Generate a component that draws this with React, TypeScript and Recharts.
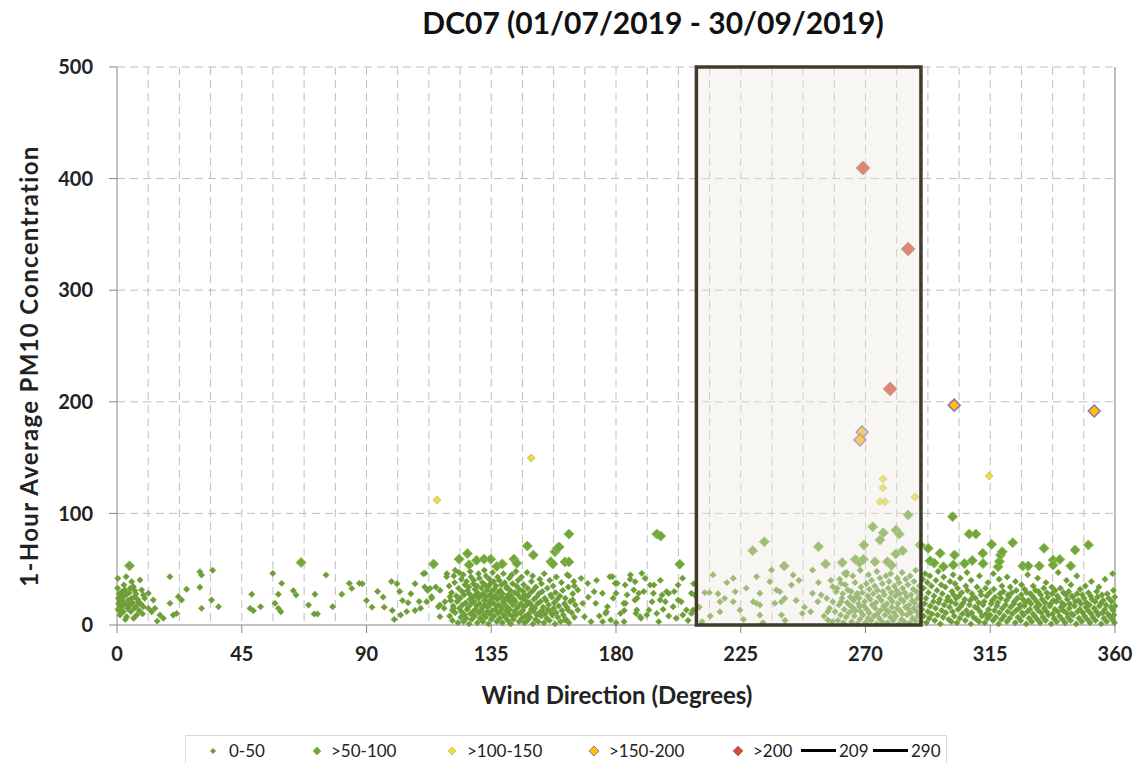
import { FC } from "react"
import { CartesianGrid, Label, ReferenceArea, ReferenceLine, Scatter, ScatterChart, XAxis, YAxis } from "recharts"

type Pair = [number, number]

// wind direction (deg), PM10 (ug/m3), grouped by band
const over200: Pair[] = [[269.1, 409.5], [285.4, 336.9], [278.9, 211.5]]

const from150to200: Pair[] = [[268.8, 173], [268, 165.8], [302, 197], [352.5, 191.8]]

const from100to150: Pair[] = [
  [115.4, 112], [149.4, 149.6], [276.3, 130.8], [276.3, 122.8],
  [275.2, 110.5], [277, 110.5], [287.9, 114.7], [314.6, 133.5],
]

const from50to100: Pair[] = [
  [4.5, 53], [66.4, 56], [114.2, 54.6], [123.4, 59], [126.4, 64], [127, 54], [129.7, 58],
  [132.4, 59], [134.8, 59], [137, 52.5], [139, 54.7], [143.2, 59], [144.2, 55.3], [148, 70.8],
  [150.2, 62.7], [156.5, 56.7], [157.2, 54.7], [158, 65.7], [158.8, 68.7], [159.5, 70],
  [161.6, 56.5], [163, 56.5], [163, 81.5], [194.7, 81.5], [196.1, 79.7], [203, 54.5],
  [229.3, 66.6], [233.5, 74.6], [240.7, 52.9], [253, 70.2], [255.6, 54.7], [261.6, 55.9],
  [266.3, 58.8], [267.8, 55.9], [269.2, 58.8], [269.4, 71.7], [272.6, 88], [273.4, 56.7],
  [275.2, 76.2], [276.4, 82.7], [277.9, 56.7], [279.4, 53.5], [280.9, 63.6], [281, 85.1],
  [282.2, 81.5], [283.4, 66.6], [285.4, 98.6], [289.7, 71.7],
  [292.6, 68.7], [293.3, 57.5], [294.8, 55.5], [296.9, 64.2], [298.1, 52.2], [301.4, 97],
  [301.7, 53.8], [302.1, 62.7], [305.7, 55], [307.4, 81.5], [308.5, 57.8], [309.8, 81.5],
  [312.3, 64.2], [312.4, 55], [315.5, 72.3], [317.8, 52.2], [318.3, 56.9], [318.7, 62.7],
  [319.3, 65.7], [323.1, 73.7], [326.7, 52.9], [328.7, 52.9], [332.7, 52.9], [334.4, 68.7],
  [337.7, 58.2], [337.7, 53.8], [340.1, 58.8], [344, 52.9], [345.6, 67.2], [350.4, 71.7],
]

const lowNorth: Pair[] = [
  [0.3, 41.8], [3.3, 43.3], [8.3, 40.3], [5.3, 38.8], [2.5, 35.8], [5.9, 34.3], [8.9, 31.4],
  [2.9, 31.4], [0.5, 23.9], [1.1, 20.9], [1.7, 16.4], [2.3, 11.9], [4.1, 22.4], [4.7, 17.9],
  [6.5, 25.4], [7.7, 20.9], [9.5, 26.9], [7.1, 8.9], [3.5, 7.5], [1.1, 8.9], [9.5, 16.4],
  [0.8, 28], [1.5, 25], [2, 22], [2.8, 19], [3.2, 27], [3.8, 15], [4.4, 29], [5, 12], [5.6, 20],
  [6.2, 15], [6.8, 28], [7.4, 23], [8, 13], [8.6, 19], [9.2, 10], [10, 24], [0.4, 14], [1.9, 30],
  [3, 5], [4.8, 33], [6, 6], [7, 17], [2.6, 26], [5.3, 24], [3.9, 18], [0.6, 19], [0.2, 33],
  [1.3, 12], [6.4, 31], [11.3, 28.4], [13.1, 22.4], [11.3, 14.9], [13.7, 14.9], [12.5, 11.9],
  [15.5, 8.9], [16.7, 6], [14.5, 3.5], [20.3, 8.9], [21.5, 10.4], [19.1, 19.4], [22.1, 25.4],
  [23.3, 22.4], [25.1, 32], [19.1, 43.3], [29.9, 47.8], [30.5, 44.8], [29.9, 33.8], [34.5, 49],
  [34.1, 22.4], [30.5, 14.9], [36.6, 16.4], [48.6, 27.5], [48, 14.9], [49.2, 12.8], [51.8, 16.4],
  [56.2, 46.3], [59.4, 37.3], [58.2, 27.5], [57, 19.4], [58.2, 14.9], [59.1, 11.9], [63.6, 30.8],
  [64.6, 26.9], [69.1, 17.9], [71.4, 27.5], [71.1, 9.9], [72.3, 9.9], [75.4, 44.8], [77.8, 16.4],
  [81.1, 27.5], [83.8, 37.3], [84.7, 32.8], [87.4, 37.3],
]

const lowEast: Pair[] = [
  [88.5, 37], [90, 22], [92, 16], [96, 25], [96.4, 16], [99, 39], [99.3, 13], [101, 37], [102, 30],
  [102.3, 9], [103, 22], [104.5, 12], [106, 28], [107.5, 37], [107.5, 13], [109, 21], [109.5, 15],
  [110.5, 46], [111, 34], [112, 31], [113.5, 24], [115, 34], [116.5, 31], [116.5, 18], [118, 15],
  [119, 46], [121, 13], [122, 49], [111.1, 46.3], [112.9, 32.8], [113.5, 25.4], [111.7, 20.9],
  [115.9, 16.4], [118.3, 20.9], [120.1, 25.4], [118.9, 43.3], [121.3, 14.9], [116.5, 7.5],
  [105, 20], [100, 5], [94, 30],
]

const lowSouthEast: Pair[] = [
  [120, 8], [120.4, 22], [119.8, 35], [121, 4], [121.3, 17], [120.7, 29], [121.5, 44],
  [122, 11], [122.4, 26], [121.8, 38], [123, 2], [123.5, 15], [122.7, 21], [123.2, 33], [123.4, 47],
  [124, 7], [124.3, 12], [123.8, 24], [124.5, 30], [124.2, 41],
  [125, 3], [125.4, 9], [124.7, 18], [125.2, 27], [125.5, 36], [124.9, 45],
  [126, 6], [126.3, 14], [125.8, 20], [126.4, 31], [126.1, 39],
  [127, 1], [127.5, 10], [126.7, 16], [127.3, 23], [127.1, 28], [126.9, 34], [127.4, 48],
  [128, 5], [128.4, 12], [127.8, 19], [128.2, 25], [128.5, 37], [127.7, 43],
  [129, 8], [129.3, 14], [128.8, 21], [129.4, 27], [129.1, 32], [128.7, 40],
  [130, 2], [130.5, 11], [129.7, 17], [130.3, 24], [130.1, 29], [129.9, 35], [130.4, 46],
  [131, 6], [131.4, 13], [130.8, 19], [131.2, 26], [131.5, 33], [130.7, 42],
  [132, 3], [132.3, 9], [131.7, 15], [132.4, 22], [132.1, 28], [131.8, 38], [132.5, 49],
  [133, 7], [133.5, 12], [132.8, 18], [133.2, 25], [133.4, 31], [132.7, 36], [133.1, 44],
  [134, 1], [134.4, 10], [133.7, 16], [134.2, 21], [134.5, 27], [133.9, 34], [134.3, 41],
  [135, 5], [135.3, 13], [134.8, 19], [135.4, 24], [135.1, 30], [134.7, 37], [135.5, 47],
  [136, 8], [136.5, 14], [135.7, 20], [136.3, 26], [136.1, 32], [135.9, 39],
  [137, 3], [137.4, 11], [136.8, 17], [137.2, 23], [137.5, 29], [136.7, 35], [137.3, 43],
  [138, 6], [138.3, 12], [137.7, 18], [138.4, 25], [138.2, 31], [137.9, 40],
  [139, 2], [139.5, 9], [138.8, 15], [139.3, 21], [139.1, 28], [138.7, 36], [139.4, 46],
  [140, 7], [140.4, 13], [139.7, 19], [140.2, 24], [140.5, 33], [139.9, 38],
  [141, 4], [141.3, 10], [140.8, 16], [141.4, 22], [141.1, 27], [140.7, 34], [141.5, 42],
  [142, 1], [142.5, 8], [141.7, 14], [142.3, 20], [142.1, 26], [141.9, 31], [142.4, 45],
  [143, 5], [143.4, 12], [142.8, 18], [143.2, 23], [143.5, 29], [142.7, 37],
  [144, 9], [144.3, 15], [143.7, 21], [144.4, 28], [144.1, 35], [143.9, 48],
  [145, 3], [145.5, 11], [144.8, 17], [145.3, 25], [145.1, 32], [144.7, 40],
  [146, 6], [146.4, 13], [145.7, 19], [146.2, 24], [146.5, 30], [145.9, 43],
  [147, 2], [147.3, 8], [146.8, 16], [147.4, 22], [147.1, 27], [146.7, 36],
  [148, 4], [148.5, 10], [147.7, 18], [148.3, 26], [148.1, 33], [147.9, 47],
  [149, 7], [149.4, 14], [148.8, 20], [149.2, 29], [149.5, 39],
  [150, 1], [150.3, 12], [149.7, 17], [150.4, 23], [150.1, 31], [149.9, 44],
  [151, 5], [151.5, 9], [150.8, 15], [151.3, 25], [151.1, 34],
  [152, 3], [152.4, 11], [151.7, 19], [152.2, 28], [152.5, 41],
  [153, 8], [153.3, 13], [152.8, 21], [153.4, 30], [153.1, 37],
  [154, 2], [154.5, 10], [153.7, 16], [154.3, 24], [154.1, 46],
  [155, 6], [155.4, 14], [154.8, 22], [155.2, 33],
  [156, 4], [156.3, 12], [155.7, 18], [156.4, 27], [156.1, 40],
  [157, 9], [157.5, 15], [156.8, 25], [157.3, 35],
  [158, 1], [158.4, 11], [157.7, 20], [158.2, 29], [158.5, 43],
  [159, 7], [159.3, 17], [158.8, 23],
  [160, 3], [160.5, 13], [159.7, 26], [160.3, 38],
  [161, 9], [161.4, 19], [160.8, 31],
  [162, 5], [162.3, 16], [161.7, 24], [162.4, 45],
  [163, 2], [163.5, 21], [162.8, 34], [164, 11], [164.4, 28], [165, 7], [165.3, 18], [164.8, 39],
]

const lowSouth: Pair[] = [
  [185.2, 44.8], [189.3, 46.3], [192.3, 35.8], [186.4, 31.4], [187.6, 23.9], [193.5, 28.4],
  [195.9, 22.4], [198.2, 29.9], [202.4, 35.8], [202.4, 22.4], [205.4, 13.4], [207.2, 28.4],
  [207.8, 13.4], [200.6, 16.4], [194.7, 10.4], [191.1, 9], [188.7, 7.5], [187.5, 13.4],
  [182.8, 19.4], [181.6, 10.4], [180.4, 37.3], [178.7, 43.3], [175.1, 28.4], [172.1, 29.9],
  [172.7, 19.4], [176.9, 16.4], [178.1, 4.5], [176.3, 10.4], [169.8, 37.3], [167.4, 41.8],
  [166.2, 31.4], [168, 19.4], [166.2, 13.4], [168.6, 7.5], [164.4, 22.4], [162.7, 13.4],
  [161.5, 4.5], [177.8, 43.3], [179.7, 37.3], [183.3, 35.8], [185.1, 41], [186.9, 38.8],
  [190.5, 41.8], [193.7, 35.8], [180, 28.4], [183.4, 19.4], [176.5, 11.9], [175.2, 3],
  [182.9, 3], [186.8, 22.4], [188.2, 28.4], [187.2, 10.4], [189, 6], [191.9, 13.4], [193, 20.9],
  [196.6, 26.9], [197.8, 20.9], [199, 28.4], [195.4, 3], [201.7, 6], [204.1, 9], [203.5, 20.9],
  [207.2, 10.4], [208.4, 26.9], [170, 25], [173, 40], [174, 8], [179, 24], [184, 27], [190, 30],
  [196, 40], [199, 8], [204, 42], [206, 4], [171, 3], [165, 35], [163, 44], [180, 2], [183, 13],
  [197, 14], [201, 30], [208, 37],
]

const lowBoxWest: Pair[] = [
  [212, 29], [213.7, 29], [216.8, 28], [217.5, 20.9], [219.2, 23.9], [217.5, 11.9], [222.3, 41.8],
  [223, 29.9], [222.3, 20.9], [224.7, 13.4], [229.5, 20.9], [230.7, 19.4], [230.7, 43.3],
  [231.9, 28.4], [231.9, 8.9], [235.5, 38.8], [236.1, 49.2], [237.9, 31.4], [239.1, 29.9],
  [237.3, 19.4], [239.7, 20.9], [240.9, 23.9], [243.3, 35.8], [243.9, 44.8], [239.7, 8.9],
  [250.9, 49.2], [250.9, 28.4], [252.8, 20.9], [254, 26.9], [256.4, 11.9], [256.4, 4.5],
  [258.2, 34.3], [259.4, 29.9], [261.2, 37.3], [262.4, 46.3], [263.6, 31.4], [258.2, 20.9],
  [261.2, 20.9], [264.2, 17.9], [266, 23.9], [265.4, 13.4], [267.8, 16.4], [267.1, 28.4],
  [263, 44.8], [250.2, 11.9], [247.2, 10.4], [231.9, 17.9], [211, 3], [214, 8], [226, 5],
  [233, 2], [241, 4], [245, 22], [248, 16], [227, 33], [220, 38], [246, 40], [253, 38], [210, 16],
  [215, 45], [255, 8], [256, 24], [257, 15], [258, 3], [259, 12], [257.5, 40],
]

const lowBoxEast: Pair[] = [
  [260, 4], [260.4, 18], [259.8, 33], [261, 9], [261.5, 24], [260.7, 41], [262, 2], [262.3, 14],
  [261.8, 28], [263, 7], [263.4, 20], [262.7, 36], [263.2, 47], [264, 11], [264.5, 25],
  [265, 3], [265.3, 16], [264.8, 30], [265.4, 44], [266, 8], [266.4, 13], [265.7, 22], [266.2, 38],
  [267, 1], [267.5, 19], [266.8, 27], [268, 5], [268.3, 12], [267.7, 24], [268.4, 34], [268.1, 49],
  [269, 9], [269.4, 17], [268.8, 29], [270, 2], [270.5, 14], [269.7, 21], [270.3, 37],
  [271, 6], [271.3, 11], [270.8, 26], [271.4, 32], [271.1, 45], [272, 4], [272.4, 18], [271.7, 23],
  [272.2, 40], [273, 8], [273.5, 15], [272.8, 28], [273.3, 35], [274, 1], [274.3, 10], [273.7, 20],
  [274.4, 31], [274.1, 48], [275, 6], [275.4, 13], [274.8, 25], [275.2, 42], [276, 3], [276.5, 17],
  [275.7, 22], [276.3, 30], [276.1, 37], [277, 9], [277.3, 14], [276.8, 27], [277.4, 44],
  [278, 2], [278.4, 12], [277.7, 19], [278.2, 33], [278.5, 39], [279, 7], [279.5, 16], [278.8, 24],
  [279.3, 29], [279.1, 46], [280, 4], [280.3, 11], [279.7, 21], [280.4, 35], [281, 8], [281.4, 15],
  [280.8, 26], [281.2, 31], [281.5, 42], [282, 1], [282.5, 13], [281.7, 19], [282.3, 28],
  [282.1, 38], [283, 5], [283.3, 10], [282.8, 23], [283.4, 33], [283.2, 47], [284, 3], [284.4, 16],
  [283.7, 21], [284.2, 29], [284.5, 41], [285, 9], [285.5, 14], [284.8, 25], [285.3, 36],
  [286, 2], [286.3, 11], [285.7, 18], [286.4, 27], [286.1, 44], [287, 6], [287.4, 15], [286.8, 22],
  [287.2, 32], [287.5, 39], [288, 4], [288.5, 12], [287.7, 20], [288.3, 30], [288.1, 49],
  [289, 8], [289.3, 17], [288.8, 24], [289.4, 35],
]

const lowWest: Pair[] = [
  [290, 3], [290.4, 14], [289.8, 27], [290.6, 41], [291, 8], [291.3, 19], [290.9, 33], [291.5, 46],
  [292, 2], [292.5, 12], [291.8, 24], [292.3, 38], [293, 6], [293.4, 17], [292.7, 29], [293.2, 44],
  [294, 10], [294.5, 21], [293.8, 35], [295, 4], [295.3, 15], [294.7, 26], [295.4, 40],
  [296, 9], [296.4, 20], [295.8, 31], [296.2, 48], [297, 1], [297.5, 13], [296.8, 23], [297.3, 36],
  [298, 7], [298.4, 18], [297.7, 28], [298.2, 43], [299, 11], [299.4, 22], [298.8, 34],
  [300, 5], [300.3, 16], [299.7, 25], [300.5, 39], [301, 3], [301.4, 12], [300.8, 21], [301.2, 30],
  [301.6, 45], [302, 8], [302.5, 19], [301.8, 27], [302.3, 37], [303, 2], [303.4, 14], [302.7, 24],
  [303.2, 33], [304, 6], [304.5, 17], [303.8, 26], [304.2, 42], [305, 10], [305.3, 20], [304.7, 29],
  [306, 4], [306.4, 13], [305.8, 23], [306.2, 35], [306.6, 47], [307, 9], [307.5, 18], [306.8, 31],
  [308, 1], [308.3, 11], [307.7, 22], [308.4, 28], [308.1, 40], [309, 7], [309.5, 16], [308.8, 25],
  [310, 5], [310.4, 15], [309.7, 24], [310.2, 34], [311, 3], [311.3, 12], [310.8, 20], [311.5, 30],
  [311.1, 44], [312, 8], [312.4, 18], [311.7, 27], [313, 2], [313.5, 10], [312.8, 21], [313.3, 33],
  [314, 6], [314.4, 14], [313.7, 26], [314.2, 38], [315, 9], [315.3, 19], [314.8, 29],
  [316, 4], [316.5, 13], [315.7, 22], [316.3, 32], [316.1, 46], [317, 7], [317.4, 17], [316.8, 25],
  [318, 1], [318.3, 11], [317.7, 20], [318.5, 28], [318.2, 41], [319, 5], [319.4, 15], [318.8, 24],
  [319.2, 35], [320, 8], [320.5, 18], [319.7, 30], [321, 3], [321.3, 12], [320.8, 22], [321.4, 27],
  [321.1, 43], [322, 6], [322.4, 16], [321.7, 25], [322.2, 34], [323, 10], [323.5, 19], [322.8, 29],
  [324, 2], [324.3, 13], [323.7, 21], [324.4, 31], [324.1, 39], [325, 7], [325.4, 15], [324.8, 24],
  [326, 4], [326.5, 11], [325.7, 18], [326.2, 27], [326.3, 36], [327, 9], [327.3, 17], [326.8, 23],
  [327.4, 32], [328, 1], [328.4, 12], [327.7, 20], [328.2, 29], [328.5, 45], [329, 6], [329.3, 14],
  [328.8, 22], [329.5, 28], [330, 3], [330.4, 10], [329.7, 19], [330.2, 26], [330.5, 35],
  [331, 8], [331.5, 16], [330.8, 24], [331.3, 31], [332, 5], [332.3, 13], [331.7, 21], [332.4, 30],
  [332.1, 42], [333, 2], [333.4, 11], [332.8, 18], [333.2, 27], [334, 7], [334.5, 15], [333.7, 23],
  [334.3, 33], [335, 4], [335.3, 12], [334.8, 20], [335.4, 29], [335.1, 38], [336, 9], [336.4, 17],
  [335.7, 25], [337, 1], [337.5, 10], [336.8, 19], [337.3, 28], [337.2, 34], [338, 6], [338.3, 14],
  [337.7, 22], [338.4, 31], [339, 3], [339.4, 12], [338.8, 21], [339.2, 26], [339.5, 47],
  [340, 8], [340.5, 16], [339.7, 24], [340.3, 33], [341, 5], [341.3, 13], [340.8, 20], [341.4, 29],
  [342, 2], [342.4, 11], [341.7, 18], [342.2, 27], [342.5, 40], [343, 7], [343.5, 15], [342.8, 23],
  [343.3, 30], [344, 4], [344.3, 10], [343.7, 19], [344.4, 26], [344.1, 36], [345, 9], [345.4, 17],
  [344.8, 25], [346, 1], [346.5, 12], [345.7, 21], [346.3, 28], [346.2, 44], [347, 6], [347.3, 14],
  [346.8, 22], [347.4, 32], [348, 3], [348.4, 11], [347.7, 19], [348.2, 27], [349, 8], [349.5, 16],
  [348.8, 24], [349.3, 35], [350, 5], [350.3, 13], [349.7, 20], [350.4, 29], [351, 2], [351.4, 10],
  [350.8, 18], [351.2, 26], [351.5, 39], [352, 7], [352.5, 15], [351.7, 23], [353, 4], [353.3, 12],
  [352.8, 21], [353.4, 30], [354, 9], [354.4, 17], [353.7, 25], [354.2, 34], [355, 1], [355.5, 11],
  [354.8, 19], [355.3, 27], [356, 6], [356.3, 14], [355.7, 22], [356.4, 41], [357, 3], [357.4, 10],
  [356.8, 18], [357.2, 28], [358, 8], [358.5, 16], [357.7, 24], [359, 5], [359.3, 13], [358.8, 21],
  [359.4, 31], [359.1, 46], [359.8, 2], [359.6, 9], [360, 17], [359.9, 25],
]

const xTicks = [0, 45, 90, 135, 180, 225, 270, 315, 360]
const yTicks = [0, 100, 200, 300, 400, 500]
const minorX = Array.from({ length: 31 }, (_, i) => (i + 1) * 11.25)
const boxFrom = 209
const boxTo = 290

const toPoints = (list: Pair[]) => list.map(([x, y]) => ({ x, y }))

const low = toPoints([
  ...lowNorth, ...lowEast, ...lowSouthEast, ...lowSouth, ...lowBoxWest, ...lowBoxEast, ...lowWest,
])

const diamond = (r: number, fill: string, stroke: string, sw: number) => (props: any) => {
  const { cx, cy } = props
  if (cx == null || cy == null) return <g />
  return (
    <polygon
      points={`${cx},${cy - r} ${cx + r},${cy} ${cx},${cy + r} ${cx - r},${cy}`}
      fill={fill}
      stroke={stroke}
      strokeWidth={sw}
    />
  )
}

const FONT = "Lato, 'Open Sans', sans-serif"
const tickStyle = { fontSize: 20, fontWeight: 700, fill: "#222", fontFamily: FONT }

const Marker: FC<{ r: number; fill: string; stroke: string }> = ({ r, fill, stroke }) => (
  <svg width={14} height={14} style={{ display: "block" }}>
    <polygon points={`7,${7 - r} ${7 + r},7 7,${7 + r} ${7 - r},7`} fill={fill} stroke={stroke} />
  </svg>
)

const legendItems = [
  { label: "0-50", left: 20, gap: 9, kind: <Marker r={2.5} fill="#6e9e38" stroke="#6e9e38" /> },
  { label: ">50-100", left: 124, gap: 7, kind: <Marker r={4} fill="#74a43c" stroke="#8fbf5a" /> },
  { label: ">100-150", left: 259, gap: 8, kind: <Marker r={4} fill="#ede02c" stroke="#c9c58a" /> },
  { label: ">150-200", left: 401, gap: 8, kind: <Marker r={5} fill="#ffc000" stroke="#8f74b8" /> },
  { label: ">200", left: 545, gap: 8, kind: <Marker r={5} fill="#d44a3c" stroke="#b8806a" /> },
  { label: "209", left: 615, gap: 3, kind: <div style={{ width: 35, height: 3, background: "#000" }} /> },
  { label: "290", left: 687, gap: 3, kind: <div style={{ width: 35, height: 3, background: "#000" }} /> },
]

const App: FC = () => {
  return (
    <div style={{ margin: -8, position: "relative", width: 1145, height: 771, background: "#fff", fontFamily: FONT }}>
      <div style={{ position: "absolute", left: 253, top: 4, width: 800, textAlign: "center", fontSize: 30, fontWeight: 700, color: "#111" }}>
        DC07 (01/07/2019 - 30/09/2019)
      </div>
      <ScatterChart width={1145} height={771} margin={{ top: 67, right: 30, bottom: 86, left: 0 }}>
        <CartesianGrid
          stroke="#bfbfbf"
          strokeDasharray="8 5"
          horizontalValues={[100, 200, 300, 400, 500]}
          verticalValues={minorX}
        />
        <XAxis
          type="number"
          dataKey="x"
          domain={[0, 360]}
          ticks={xTicks}
          interval={0}
          height={60}
          tickSize={8}
          tickMargin={14}
          stroke="#868686"
          tick={tickStyle}
        >
          <Label
            content={() => (
              <text x={617} y={704} textAnchor="middle" fontSize={24} fontWeight={700} fill="#222" fontFamily={FONT}>
                Wind Direction (Degrees)
              </text>
            )}
          />
        </XAxis>
        <YAxis
          type="number"
          dataKey="y"
          domain={[0, 500]}
          ticks={yTicks}
          interval={0}
          width={117}
          tickSize={8}
          tickMargin={16}
          stroke="#868686"
          tick={tickStyle}
        >
          <Label
            content={() => (
              <text x={38} y={366} transform="rotate(-90 38 366)" textAnchor="middle" fontSize={24} letterSpacing={1.3} fontWeight={700} fill="#222" fontFamily={FONT}>
                1-Hour Average PM10 Concentration
              </text>
            )}
          />
        </YAxis>
        <ReferenceLine x={360} stroke="#a6a6a6" strokeWidth={1.5} />
        <Scatter data={low} shape={diamond(3.2, "#6e9e38", "#6e9e38", 0.5)} isAnimationActive={false} />
        <Scatter data={toPoints(from50to100)} shape={diamond(5, "#74a43c", "#8fbf5a", 1)} isAnimationActive={false} />
        <Scatter data={toPoints(from100to150)} shape={diamond(4, "#ede02c", "#c9c58a", 1)} isAnimationActive={false} />
        <Scatter data={toPoints(from150to200)} shape={diamond(6, "#ffc000", "#8f74b8", 1.5)} isAnimationActive={false} />
        <Scatter data={toPoints(over200)} shape={diamond(7, "#d44a3c", "#b8806a", 1)} isAnimationActive={false} />
        <ReferenceArea
          x1={boxFrom}
          x2={boxTo}
          y1={0}
          y2={500}
          fill="#ebe7dc"
          fillOpacity={0.38}
          stroke="#3f3a2a"
          strokeWidth={3.5}
          ifOverflow="visible"
          zIndex={900}
        />
      </ScatterChart>
      <div style={{ position: "absolute", left: 185, top: 735, width: 762, height: 31, border: "1px solid #d9d9d9", boxSizing: "border-box", fontSize: 17, color: "#222" }}>
        {legendItems.map((it) => (
          <div key={it.label} style={{ position: "absolute", left: it.left, top: 0, height: 29, display: "flex", alignItems: "center", gap: it.gap }}>
            {it.kind}
            <span>{it.label}</span>
          </div>
        ))}
      </div>
    </div>
  )
}

export default App
